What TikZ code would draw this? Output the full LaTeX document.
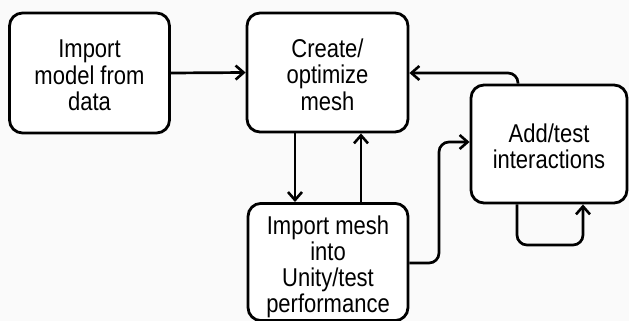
\documentclass[tikz,border=0pt]{standalone}
\usepackage{fontspec}
\usepackage{graphicx}
\setmainfont{Liberation Sans}
\usetikzlibrary{arrows.meta}
% box labels: centred lines, set slightly taller than wide, sitting a little low
\newcommand{\boxtext}[1]{\raisebox{0pt}[\dimexpr\height+12pt\relax]{%
  \scalebox{1}[1.17]{\begin{tabular}{@{}c@{}}#1\end{tabular}}}}
\begin{document}
\begin{tikzpicture}[x=1pt,y=-1pt,
  stepbox/.style={draw=black, line width=2.8pt, rounded corners=13pt, fill=white,
    align=center, font=\fontsize{22}{21.8}\selectfont, inner sep=0pt},
  flow/.style={draw=black, line width=2.7pt, rounded corners=10pt,
    -{Straight Barb[length=8pt,width=14pt,line width=2.6pt]}}
]
\fill[white!98!black] (0,0) rectangle (629,321);
\useasboundingbox (0,0) rectangle (629,321);

\node[stepbox, minimum width=160pt, minimum height=120pt] (imp) at (89.5,73)
  {\boxtext{Import\\model from\\data}};
\node[stepbox, minimum width=161pt, minimum height=119pt] (mesh) at (327.5,72.5)
  {\boxtext{Create/\\optimize\\mesh}};
\node[stepbox, minimum width=156pt, minimum height=118pt] (inter) at (549,144)
  {\boxtext{Add/test\\interactions}};
\node[stepbox, minimum width=160pt, minimum height=114pt] (unity) at (328,262)
  {\boxtext{Import mesh\\into\\Unity/test\\performance}};

% main chain
\draw[flow] (mesh.south -| 295,0) -- (unity.north -| 295,0);
\draw[flow] (imp.east) -- (mesh.west);
\draw[flow] (unity.north -| 361,0) -- (mesh.south -| 361,0);

% unity test feeds the interaction stage
\coordinate (u1) at (439,263);
\draw[flow] (unity.east |- u1) -- (u1) -- (439,142) -- (inter.west |- 0,142);

% interactions loop back to the mesh
\draw[flow] (inter.north -| 518,0) -- (518,73) -- (mesh.east |- 0,73);

% self loop under the interaction box
\draw[flow] (inter.south -| 517,0) -- (517,245) -- (583,245) -- (inter.south -| 583,0);
\end{tikzpicture}
\end{document}
